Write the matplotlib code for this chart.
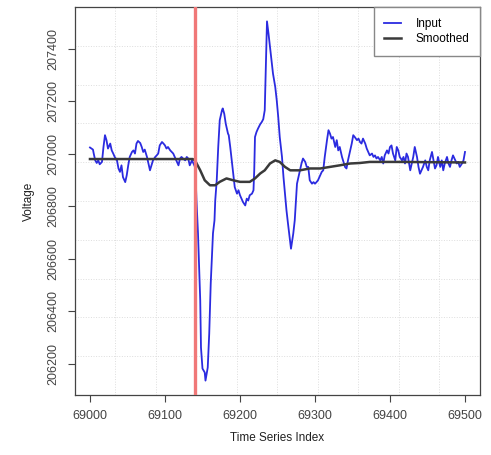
import matplotlib
matplotlib.use("Agg")
import matplotlib.pyplot as plt
from matplotlib.ticker import MultipleLocator
import numpy as np

# input series
input_idx = [69000, 69004, 69005, 69007, 69009, 69011, 69013, 69016, 69018, 69020,
             69022, 69024, 69027, 69029, 69031, 69033, 69036, 69038, 69040, 69042,
             69044, 69047, 69049, 69051, 69053, 69056, 69058, 69060, 69062, 69064,
             69067, 69069, 69071, 69073, 69076, 69078, 69080, 69082, 69084, 69087,
             69089, 69091, 69093, 69096, 69098, 69100, 69102, 69104, 69107, 69109,
             69111, 69113, 69116, 69118, 69120, 69122, 69124, 69127, 69129, 69131,
             69133, 69136, 69138, 69140, 69141, 69142, 69144, 69147, 69148, 69150,
             69153, 69154, 69157, 69159, 69161, 69164, 69166, 69167, 69169, 69171,
             69173, 69176, 69177, 69179, 69181, 69184, 69185, 69187, 69189, 69191,
             69193, 69196, 69198, 69200, 69202, 69204, 69207, 69209, 69211, 69213,
             69216, 69218, 69219, 69220, 69222, 69224, 69227, 69229, 69231, 69233,
             69236, 69238, 69240, 69242, 69244, 69247, 69249, 69251, 69253, 69256,
             69258, 69260, 69262, 69264, 69268, 69271, 69273, 69276, 69280, 69282,
             69284, 69287, 69289, 69291, 69293, 69296, 69298, 69300, 69302, 69304,
             69307, 69309, 69311, 69313, 69316, 69318, 69320, 69322, 69324, 69327,
             69329, 69331, 69333, 69336, 69338, 69340, 69342, 69344, 69347, 69349,
             69351, 69353, 69356, 69358, 69360, 69362, 69364, 69367, 69369, 69371,
             69373, 69376, 69378, 69380, 69382, 69384, 69387, 69389, 69391, 69393,
             69396, 69398, 69400, 69402, 69404, 69407, 69409, 69411, 69413, 69416,
             69418, 69420, 69422, 69424, 69427, 69429, 69431, 69433, 69436, 69438,
             69440, 69442, 69444, 69447, 69449, 69451, 69453, 69456, 69458, 69460,
             69462, 69464, 69467, 69469, 69471, 69473, 69476, 69478, 69480, 69482,
             69484, 69487, 69489, 69491, 69493, 69496, 69498, 69500]
input_val = [207024, 207016, 207001, 206975, 206965, 206975, 206960, 206969, 207026, 207071,
             207052, 207020, 207039, 207013, 207001, 206988, 206975, 206944, 206931, 206956,
             206911, 206892, 206918, 206956, 206988, 207007, 207013, 207001, 207039, 207049,
             207041, 207026, 207007, 207016, 206988, 206963, 206937, 206956, 206975, 206988,
             206994, 207001, 207032, 207045, 207039, 207032, 207020, 207026, 207013, 207007,
             207001, 206988, 206969, 206956, 206982, 206988, 206982, 206975, 206988, 206982,
             206956, 206975, 206963, 206950, 206900, 206822, 206697, 206441, 206261, 206181,
             206166, 206135, 206185, 206315, 206506, 206697, 206746, 206822, 206899, 207026,
             207128, 207166, 207173, 207153, 207115, 207077, 207071, 207026, 206975, 206924,
             206873, 206848, 206861, 206842, 206829, 206816, 206803, 206829, 206822, 206842,
             206848, 206861, 206937, 207064, 207083, 207096, 207113, 207121, 207132, 207166,
             207505, 207459, 207408, 207357, 207306, 207255, 207204, 207140, 207064, 206988,
             206911, 206848, 206784, 206734, 206638, 206695, 206746, 206886, 206937, 206963,
             206982, 206969, 206950, 206950, 206899, 206886, 206892, 206886, 206892, 206899,
             206918, 206931, 206937, 206988, 207052, 207090, 207077, 207058, 207064, 207026,
             207052, 207013, 207026, 206988, 206969, 206950, 206944, 206975, 207013, 207039,
             207071, 207064, 207052, 207058, 207045, 207039, 207058, 207039, 207020, 207007,
             206994, 207001, 206988, 206994, 206982, 206988, 206975, 206988, 206963, 206994,
             207013, 207001, 207026, 207032, 207001, 206975, 207026, 207013, 206988, 206975,
             206988, 206963, 207001, 206988, 206937, 206963, 206988, 207026, 206988, 206950,
             206924, 206937, 206950, 206975, 206950, 206937, 206975, 207007, 206975, 206944,
             206956, 206988, 206950, 206975, 206937, 206963, 206988, 206963, 206950, 206975,
             206994, 206975, 206963, 206969, 206950, 206963, 206975, 207007]

# smoothed series
smooth_idx = [69000, 69137, 69140, 69147, 69153, 69160, 69167, 69173, 69182, 69191,
              69200, 69213, 69220, 69227, 69233, 69240, 69247, 69253, 69260, 69267,
              69280, 69293, 69307, 69320, 69333, 69347, 69360, 69373, 69413, 69500]
smooth_val = [206980, 206980, 206975, 206937, 206899, 206880, 206880, 206893, 206906, 206899,
              206893, 206893, 206906, 206925, 206937, 206963, 206975, 206969, 206950, 206937,
              206937, 206944, 206944, 206950, 206956, 206963, 206965, 206969, 206969, 206967]

change_point = 69140

plt.rcParams['font.family'] = ['Liberation Sans', 'DejaVu Sans']

fig = plt.figure(figsize=(4.91, 4.55), dpi=100)
ax = fig.add_axes([0.1527, 0.1319, 0.8249, 0.8527])

ax.plot(input_idx, input_val, color='#2b2be0', lw=1.3, label='Input')
ax.plot(smooth_idx, smooth_val, color='#3a3a3a', lw=1.8, label='Smoothed')
ax.margins(x=0.04, y=0.04)

x0, x1 = ax.get_xlim()
y0, y1 = ax.get_ylim()
for gx in np.linspace(x0, x1, 11)[1:-1]:
    ax.axvline(gx, color='#dddddd', lw=0.7, ls=':', zorder=0)
for gy in np.linspace(y0, y1, 11)[1:-1]:
    ax.axhline(gy, color='#dddddd', lw=0.7, ls=':', zorder=0)
ax.set_xlim(x0, x1)
ax.set_ylim(y0, y1)

ax.axvline(change_point, color='#f07878', lw=2.4, zorder=3)

ax.xaxis.set_major_locator(MultipleLocator(100))
ax.yaxis.set_major_locator(MultipleLocator(200))
ax.tick_params(direction='out', length=5, width=0.8, colors='#444444', labelsize=9, pad=6)
for lab in ax.get_yticklabels():
    lab.set_rotation(90)
    lab.set_va('center')
for s in ax.spines.values():
    s.set_color('#444444')
    s.set_linewidth(0.9)

ax.set_xlabel('Time Series Index', fontsize=8.5, color='#222222', labelpad=7)
ax.set_ylabel('Voltage', fontsize=8.5, color='#222222', labelpad=9)

leg = ax.legend(loc='upper right', fontsize=8.5, fancybox=False, borderaxespad=0,
                borderpad=0.9, labelspacing=0.3, handlelength=1.45, handletextpad=1.2,
                framealpha=1, edgecolor='#888888')
leg.get_frame().set_linewidth(1.0)

fig.savefig('out.png', dpi=100)
